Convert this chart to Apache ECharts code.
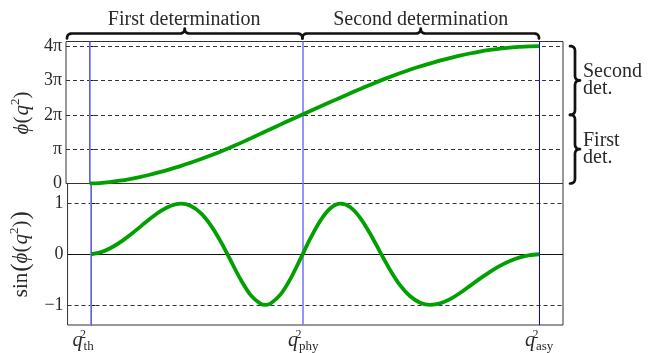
<!DOCTYPE html>
<html>
<head>
<meta charset="utf-8">
<script src="https://cdn.jsdelivr.net/npm/echarts@6/dist/echarts.min.js"></script>
<style>
  html, body { margin: 0; padding: 0; background: #fff; }
  #chart { width: 654px; height: 353px; }
</style>
</head>
<body>
<div id="chart"></div>
<script>
// Special momentum-transfer points on the horizontal axis
const qPositions = [0, 21.27, 44.93];
const qSubscripts = ['th', 'phy', 'asy'];

// Sample positions along q^2
const qSamples = [0, 1, 2, 3, 4, 5, 6, 7, 8, 9, 10, 11, 12, 13, 14, 15, 16, 17, 17.5, 18, 19, 20,
  21, 22, 23, 24, 25, 26, 27, 28, 29, 30, 31, 32, 33, 34, 35, 36, 37, 38, 39, 40,
  41, 42, 43, 44, 44.93];

// Phase phi(q^2), in units of pi
const phase = [0, 0.013, 0.041, 0.081, 0.130, 0.188, 0.255, 0.329, 0.411, 0.500, 0.595,
  0.697, 0.806, 0.920, 1.041, 1.168, 1.300, 1.437, 1.505, 1.573, 1.707, 1.840,
  1.972, 2.103, 2.233, 2.363, 2.492, 2.620, 2.746, 2.869, 2.988, 3.102,
  3.211, 3.313, 3.407, 3.492, 3.575, 3.652, 3.722, 3.785, 3.840, 3.887,
  3.926, 3.957, 3.980, 3.994, 4.000];

// sin(phi(q^2))
const sinPhase = [0, 0.041, 0.128, 0.250, 0.397, 0.556, 0.719, 0.860, 0.961, 1.000, 0.956,
  0.814, 0.572, 0.249, -0.128, -0.503, -0.809, -0.981, -1.000, -0.974, -0.795, -0.482,
  -0.087, 0.318, 0.668, 0.909, 1.000, 0.930, 0.716, 0.400, 0.038, -0.315,
  -0.616, -0.832, -0.958, -1.000, -0.972, -0.888, -0.766, -0.625, -0.482, -0.347,
  -0.230, -0.134, -0.063, -0.019, 0];

const phaseTicks = [0, 1, 2, 3, 4];
const phaseTickLabels = ['0', 'π', '2π', '3π', '4π'];
const sinTicks = [-1, 0, 1];
const sinTickLabels = ['−1', '0', '1'];

const X_MIN = -2.37, X_MAX = 47.33;
const PHASE_MAX = 4.134, SIN_LIM = 1.4;

const SERIF = '"Liberation Serif", "DejaVu Serif", serif';
const TEXT = '#2a2a2a';
const GREEN = '#00a000';

const chart = echarts.init(document.getElementById('chart'), null, { renderer: 'canvas' });

function pick(list, labels, v) {
  for (let i = 0; i < list.length; i++) if (Math.abs(list[i] - v) < 1e-6) return labels[i];
  return '';
}

const dashed = { color: '#333', width: 1, type: [4, 3] };
const blueLines = [
  { xAxis: qPositions[0], lineStyle: { color: '#7a7aff', width: 1.6, type: 'solid' } },
  { xAxis: qPositions[1], lineStyle: { color: '#7a7aff', width: 1.6, type: 'solid' } },
  { xAxis: qPositions[2], lineStyle: { color: '#0000ff', width: 1, type: 'solid' } }
];

const baseX = {
  type: 'value', min: X_MIN, max: X_MAX,
  axisLine: { show: false }, axisTick: { show: false },
  splitLine: { show: false }, axisLabel: { show: false }
};

const nameRich = {
  i: { fontFamily: SERIF, fontStyle: 'italic', fontSize: 21, lineHeight: 26, color: TEXT },
  t: { fontFamily: SERIF, fontSize: 21, lineHeight: 26, color: TEXT, padding: [0, 1, 0, 0] },
  b: { fontFamily: SERIF, fontSize: 25, lineHeight: 26, color: TEXT },
  s: { fontFamily: SERIF, fontSize: 13, lineHeight: 14, verticalAlign: 'top', color: TEXT }
};

const option = {
  animation: false,
  backgroundColor: '#fff',
  grid: [
    { left: 66, top: 41.5, width: 497, height: 142, show: true, borderColor: '#333', borderWidth: 1, backgroundColor: 'transparent' },
    { left: 66, top: 183.5, width: 497, height: 142, show: true, borderColor: '#333', borderWidth: 1, backgroundColor: 'transparent' }
  ],
  xAxis: [
    Object.assign({ gridIndex: 0 }, baseX),
    Object.assign({ gridIndex: 1 }, baseX, {
      axisLabel: {
        show: true,
        customValues: qPositions,
        margin: 4,
        formatter: function (v) {
          const sub = pick(qPositions, qSubscripts, v);
          const gap = sub === 'th' ? '{gap| }' : '';
          return '{q|q}{s|2}{d|' + sub + '}' + gap;
        },
        rich: {
          q: { fontFamily: SERIF, fontStyle: 'italic', fontSize: 20, lineHeight: 24, color: TEXT },
          s: { fontFamily: SERIF, fontSize: 12, lineHeight: 12, verticalAlign: 'top', width: 1, color: TEXT },
          d: { fontFamily: SERIF, fontSize: 13, lineHeight: 12, verticalAlign: 'bottom', color: TEXT },
          gap: { width: 16 }
        }
      }
    })
  ],
  yAxis: [
    {
      gridIndex: 0, type: 'value', min: 0, max: PHASE_MAX,
      axisLine: { show: true, lineStyle: { color: '#111', width: 1 } },
      axisTick: { show: true, inside: true, length: 4, customValues: phaseTicks, lineStyle: { color: '#111' } },
      splitLine: { show: false },
      axisLabel: {
        customValues: phaseTicks, margin: 4, color: TEXT, fontFamily: SERIF, fontSize: 18,
        formatter: v => pick(phaseTicks, phaseTickLabels, v)
      },
      name: '{i|ϕ}{t|(}{i|q}{s|2}{t|)}',
      nameLocation: 'middle', nameRotate: 90, nameGap: 28,
      nameTextStyle: { rich: nameRich }
    },
    {
      gridIndex: 1, type: 'value', min: -SIN_LIM, max: SIN_LIM,
      axisLine: { show: true, lineStyle: { color: '#111', width: 1 } },
      axisTick: { show: true, inside: true, length: 4, customValues: sinTicks, lineStyle: { color: '#111' } },
      splitLine: { show: false },
      axisLabel: {
        customValues: sinTicks, margin: 4, color: TEXT, fontFamily: SERIF, fontSize: 18,
        formatter: v => pick(sinTicks, sinTickLabels, v)
      },
      name: '{t|sin}{b|(}{i|ϕ}{t|(}{i|q}{s|2}{t|)}{b|)}',
      nameLocation: 'middle', nameRotate: 90, nameGap: 25,
      nameTextStyle: { rich: nameRich }
    }
  ],
  series: [
    {
      // reference lines of the phase panel
      type: 'line', xAxisIndex: 0, yAxisIndex: 0, data: [], z: 1,
      markLine: {
        silent: true, symbol: 'none', label: { show: false }, animation: false,
        data: phaseTicks.filter(t => t > 0).map(t => ({ yAxis: t, lineStyle: dashed })).concat(blueLines)
      }
    },
    {
      // reference lines of the sine panel
      type: 'line', xAxisIndex: 1, yAxisIndex: 1, data: [], z: 1,
      markLine: {
        silent: true, symbol: 'none', label: { show: false }, animation: false,
        data: [
          { yAxis: 1, lineStyle: dashed },
          { yAxis: -1, lineStyle: dashed },
          { yAxis: 0, lineStyle: { color: '#111', width: 1.2, type: 'solid' } }
        ].concat(blueLines)
      }
    },
    {
      name: 'phase', type: 'line', xAxisIndex: 0, yAxisIndex: 0, z: 5,
      data: qSamples.map((q, i) => [q, phase[i]]),
      smooth: 0.3, showSymbol: false, lineStyle: { color: GREEN, width: 3.8 }
    },
    {
      name: 'sine', type: 'line', xAxisIndex: 1, yAxisIndex: 1, z: 5,
      data: qSamples.map((q, i) => [q, sinPhase[i]]),
      smooth: 0.3, showSymbol: false, lineStyle: { color: GREEN, width: 3.8 }
    }
  ]
};

chart.setOption(option);

// Curly-brace annotations placed from the axis scales
function px(g, x, y) { return chart.convertToPixel({ gridIndex: g }, [x, y]); }

// Turn a list of [start, control, end] quadratic pieces into polyline points
function bracePoints(pieces) {
  const pts = [];
  pieces.forEach(([a, c, b], k) => {
    for (let i = (k === 0 ? 0 : 1); i <= 8; i++) {
      const t = i / 8, u = 1 - t;
      pts.push([u * u * a[0] + 2 * u * t * c[0] + t * t * b[0],
                u * u * a[1] + 2 * u * t * c[1] + t * t * b[1]]);
    }
  });
  return pts;
}
function hBrace(x1, x2, y, r) {
  const m = (x1 + x2) / 2;
  return bracePoints([
    [[x1, y + r], [x1, y], [x1 + r, y]],
    [[x1 + r, y], [(x1 + m) / 2, y], [m - r, y]],
    [[m - r, y], [m, y], [m, y - r]],
    [[m, y - r], [m, y], [m + r, y]],
    [[m + r, y], [(m + x2) / 2, y], [x2 - r, y]],
    [[x2 - r, y], [x2, y], [x2, y + r]]
  ]);
}
function vBrace(x, y1, y2, r) {
  const m = (y1 + y2) / 2;
  return bracePoints([
    [[x - r, y1], [x, y1], [x, y1 + r]],
    [[x, y1 + r], [x, (y1 + m) / 2], [x, m - r]],
    [[x, m - r], [x, m], [x + r, m]],
    [[x + r, m], [x, m], [x, m + r]],
    [[x, m + r], [x, (m + y2) / 2], [x, y2 - r]],
    [[x, y2 - r], [x, y2], [x - r, y2]]
  ]);
}

const left = px(0, X_MIN, PHASE_MAX);
const right = px(0, X_MAX, 0);
const xPhy = px(0, qPositions[1], 0)[0];
const xAsy = px(0, qPositions[2], 0)[0];
const braceY = left[1] - 8;
const y4 = px(0, 0, 4)[1], y2 = px(0, 0, 2)[1], y0 = px(0, 0, 0)[1];
const braceX = right[0] + 12;

const braceStyle = { fill: 'none', stroke: '#111', lineWidth: 2.7, lineJoin: 'round', lineCap: 'round' };
const titleFont = { fontFamily: SERIF, fontSize: 20, fill: TEXT };

chart.setOption({
  graphic: [
    { type: 'polyline', shape: { points: hBrace(left[0] + 1, xPhy, braceY, 5) }, style: braceStyle, silent: true },
    { type: 'polyline', shape: { points: hBrace(xPhy, xAsy, braceY, 5) }, style: braceStyle, silent: true },
    { type: 'polyline', shape: { points: vBrace(braceX, y4, y2, 5) }, style: braceStyle, silent: true },
    { type: 'polyline', shape: { points: vBrace(braceX, y2, y0, 5) }, style: braceStyle, silent: true },
    { type: 'text', x: (left[0] + xPhy) / 2, y: braceY - 14,
      style: Object.assign({ text: 'First determination', align: 'center', verticalAlign: 'middle' }, titleFont) },
    { type: 'text', x: (xPhy + xAsy) / 2, y: braceY - 14,
      style: Object.assign({ text: 'Second determination', align: 'center', verticalAlign: 'middle' }, titleFont) },
    { type: 'text', x: braceX + 8, y: (y4 + y2) / 2,
      style: Object.assign({ text: 'Second\ndet.', align: 'left', verticalAlign: 'middle', lineHeight: 17 }, titleFont) },
    { type: 'text', x: braceX + 8, y: (y2 + y0) / 2,
      style: Object.assign({ text: 'First\ndet.', align: 'left', verticalAlign: 'middle', lineHeight: 17 }, titleFont) }
  ]
});
</script>
</body>
</html>
